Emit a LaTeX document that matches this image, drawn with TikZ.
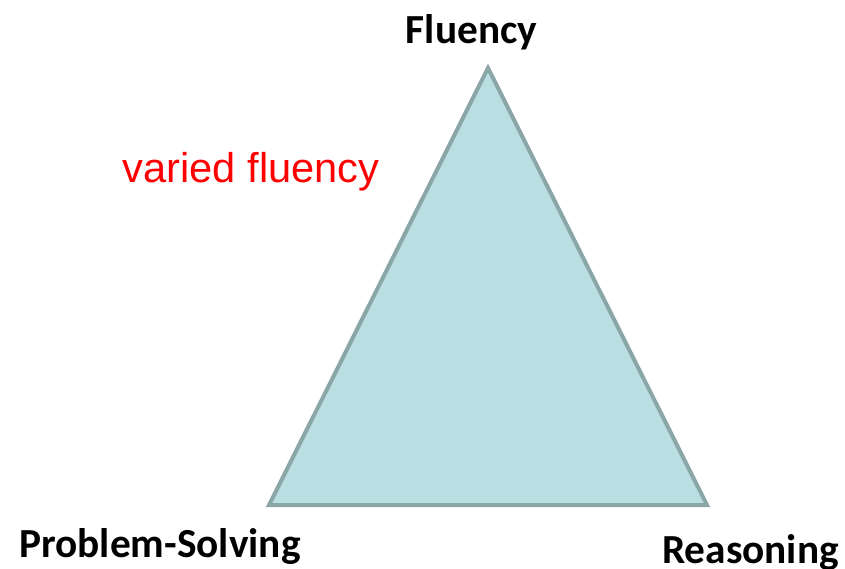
\documentclass[tikz,border=0pt]{standalone}
\usepackage{fontspec}
\setmainfont{Carlito}
\newfontfamily\arialfont{Liberation Sans}
\definecolor{trifill}{HTML}{B9DFE2}
\definecolor{triedge}{HTML}{8BA6A8}
\definecolor{notered}{HTML}{FF0000}
\begin{document}
\begin{tikzpicture}[x=0.75pt,y=-0.75pt,
  corner/.style={font=\bfseries\fontsize{31}{37}\selectfont, anchor=base, inner sep=0pt},
  note/.style={font=\arialfont\fontsize{31.2}{37}\selectfont, text=notered, anchor=base, inner sep=0pt}]
  \useasboundingbox (0,0) rectangle (845,568);
  % triangle vertices
  \coordinate (top) at (488,68);
  \coordinate (left) at (269,505);
  \coordinate (right) at (707,505);
  \draw[line width=3pt, draw=triedge, fill=trifill, line join=miter] (top) -- (right) -- (left) -- cycle;
  % vertex labels
  \node[corner] (flu) at (471.5,43) {Fluency};
  \node[corner] (ps) at (160,557) {Problem-Solving};
  \node[corner] (rea) at (750.5,563) {Reasoning};
  \node[note] (vf) at (251,182) {varied fluency};
\end{tikzpicture}
\end{document}
